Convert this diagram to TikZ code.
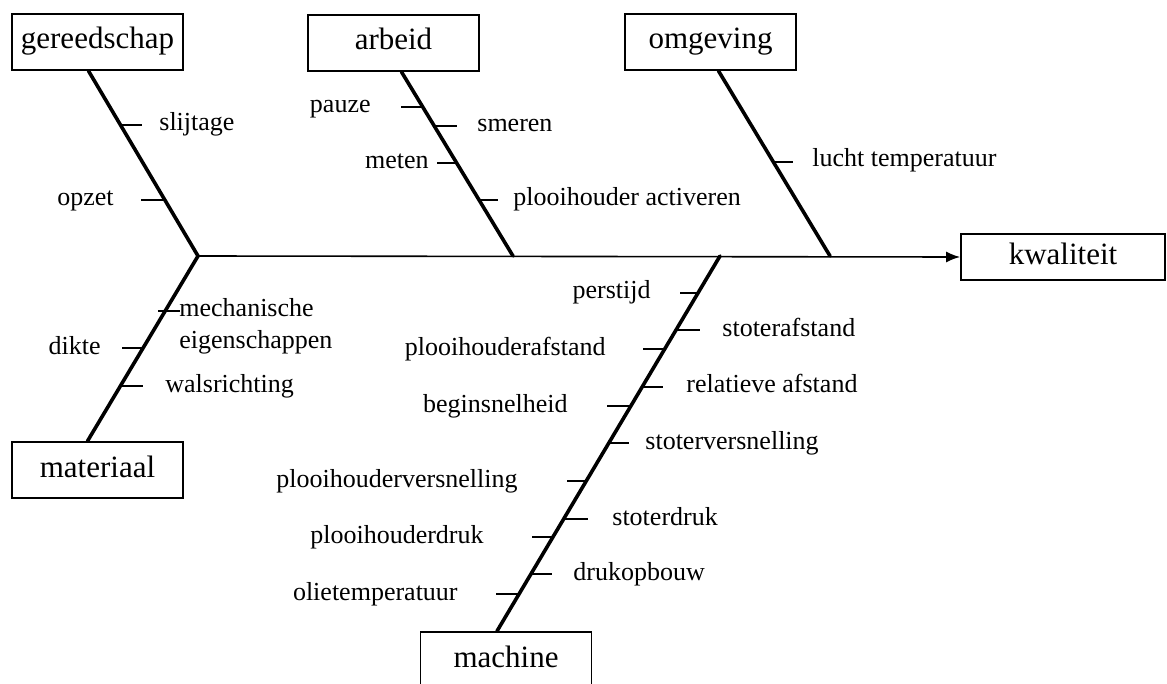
\documentclass[tikz,border=0pt]{standalone}
\usepackage{fontspec}
\setmainfont{Liberation Serif}
\usetikzlibrary{arrows.meta}

\begin{document}
\begin{tikzpicture}[
    x=0.5pt, y=-0.5pt,
    cause/.style={draw=black, line width=0.9pt, minimum width=85.5pt,
        minimum height=28pt, inner sep=0pt, text height=10.5pt, text depth=3.5pt,
        font=\fontsize{15.5}{18}\selectfont},
    factor/.style={inner sep=0pt, text height=9pt, text depth=3pt,
        font=\fontsize{13}{16}\selectfont},
    bone/.style={line width=1.8pt, line cap=round},
    spine/.style={line width=0.8pt, -{Latex[length=7pt,width=5.5pt]}},
    tick/.style={line width=1pt}
]
    \useasboundingbox[fill=white] (0,0) rectangle (1167,684);

    % cause boxes
    \node[cause] (gereedschap) at (97.5,42) {gereedschap};
    \node[cause] (arbeid) at (393.5,43) {arbeid};
    \node[cause] (omgeving) at (710.5,42) {omgeving};
    \node[cause] (materiaal) at (97.5,470) {materiaal};
    \node[cause] (machine) at (506,660) {machine};
    \node[cause, minimum width=102pt, minimum height=23pt] (kwaliteit) at (1063,257) {kwaliteit};

    % where the bones meet the spine
    \coordinate (head) at (198,256);
    \coordinate (harbeid) at (513,256);
    \coordinate (hmachine) at (720,256);
    \coordinate (homgeving) at (830,256);

    \draw[spine] (head) -- (kwaliteit.west);
    \draw[bone] ([xshift=-4.5pt]gereedschap.south) -- (head);
    \draw[bone] ([xshift=4pt]arbeid.south) -- (harbeid);
    \draw[bone] ([xshift=4pt]omgeving.south) -- (homgeving);
    \draw[bone] ([xshift=-5pt]materiaal.north) -- (head);
    \draw[bone] ([xshift=-4.5pt]machine.north) -- (hmachine);

    % gereedschap
    \draw[tick] (120,125) -- ++(22,0);
    \node[factor, anchor=west] (slijtage) at (159,125) {slijtage};
    \draw[tick] (165,200) -- ++(-24,0);
    \node[factor, anchor=east] (opzet) at (114,200) {opzet};

    % arbeid
    \draw[tick] (423,107) -- ++(-22,0);
    \node[factor, anchor=east] (pauze) at (371,107) {pauze};
    \draw[tick] (435,126) -- ++(22,0);
    \node[factor, anchor=west] (smeren) at (477,126) {smeren};
    \draw[tick] (457,163) -- ++(-20,0);
    \node[factor, anchor=east] (meten) at (429,163) {meten};
    \draw[tick] (479,200) -- ++(19,0);
    \node[factor, anchor=west] (activeren) at (513,200) {plooihouder activeren};

    % omgeving
    \draw[tick] (773,162) -- ++(20,0);
    \node[factor, anchor=west] (lucht) at (812,161) {lucht temperatuur};

    % materiaal
    \draw[tick] (158,311) -- ++(22,0);
    \node[factor, anchor=north west, text height=, text depth=, align=left] (mechanisch) at (179,298)
        {mechanische\\eigenschappen};
    \draw[tick] (143,348) -- ++(-21,0);
    \node[factor, anchor=east] (dikte) at (101,348) {dikte};
    \draw[tick] (120,386) -- ++(23,0);
    \node[factor, anchor=west] (walsrichting) at (165,386) {walsrichting};

    % machine
    \draw[tick] (698,293) -- ++(-18,0);
    \node[factor, anchor=east] (perstijd) at (651,293) {perstijd};
    \draw[tick] (676,330) -- ++(24,0);
    \node[factor, anchor=west] (stoterafstand) at (722,330) {stoterafstand};
    \draw[tick] (665,349) -- ++(-22,0);
    \node[factor, anchor=east] (phafstand) at (606,349) {plooihouderafstand};
    \draw[tick] (642,387) -- ++(21,0);
    \node[factor, anchor=west] (relatief) at (686,386) {relatieve afstand};
    \draw[tick] (631,406) -- ++(-24,0);
    \node[factor, anchor=east] (beginsnelheid) at (568,406) {beginsnelheid};
    \draw[tick] (609,443) -- ++(20,0);
    \node[factor, anchor=west] (stoterversn) at (645,443) {stoterversnelling};
    \draw[tick] (587,481) -- ++(-20,0);
    \node[factor, anchor=east] (phversn) at (518,481) {plooihouderversnelling};
    \draw[tick] (564,519) -- ++(24,0);
    \node[factor, anchor=west] (stoterdruk) at (612,519) {stoterdruk};
    \draw[tick] (553,537) -- ++(-21,0);
    \node[factor, anchor=east] (phdruk) at (484,537) {plooihouderdruk};
    \draw[tick] (531,574) -- ++(21,0);
    \node[factor, anchor=west] (drukopbouw) at (573,574) {drukopbouw};
    \draw[tick] (520,594) -- ++(-24,0);
    \node[factor, anchor=east] (olietemp) at (458,594) {olietemperatuur};
\end{tikzpicture}
\end{document}
